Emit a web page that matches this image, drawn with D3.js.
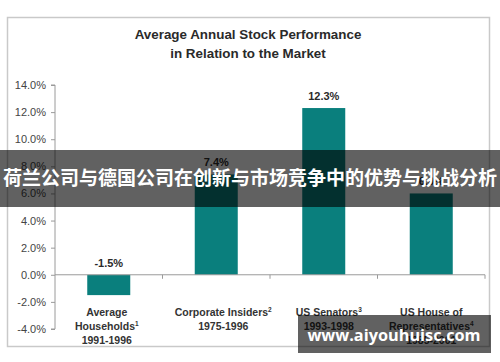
<!DOCTYPE html>
<html>
<head>
<meta charset="utf-8">
<script src="https://cdn.jsdelivr.net/npm/d3@7"></script>
<style>
  body { margin: 0; background: #fff; }
  svg { display: block; font-family: "Liberation Sans", Arial, sans-serif; }
</style>
</head>
<body>
<script>
// Data
const categories = ["Average Households", "Corporate Insiders", "US Senators", "US House of Representatives"];
const values = [-1.5, 7.4, 12.3, 6.0];
const valueLabels = ["-1.5%", "7.4%", "12.3%", "6.0%"];
const catLines = [
  [["Average", ""], ["Households", "1"], ["1991-1996", ""]],
  [["Corporate Insiders", "2"], ["1975-1996", ""]],
  [["US Senators", "3"], ["1993-1998", ""]],
  [["US House of", ""], ["Representatives", "4"], ["1985-2001", ""]]
];
const yTicks = [-4, -2, 0, 2, 4, 6, 8, 10, 12, 14];
const titleLines = ["Average Annual Stock Performance", "in Relation to the Market"];
const bannerText = "荷兰公司与德国公司在创新与市场竞争中的优势与挑战分析";
const siteText = "www.aiyouhuisc.com";

const W = 500, H = 362;
// small horizontal nudges of the category labels, as in the original layout
const labelNudge = [-2, 7, 5, 0];

const svg = d3.select("body").append("svg").attr("width", W).attr("height", H);

// Frame
svg.append("rect")
  .attr("x", 7.5).attr("y", 17.5).attr("width", 482).attr("height", 329)
  .attr("fill", "#fff").attr("stroke", "#c9c9c9").attr("stroke-width", 1.5);

// Title
svg.append("g").selectAll("text")
  .data(titleLines)
  .join("text")
  .attr("x", 248).attr("y", (d, i) => 39 + i * 18.5)
  .attr("text-anchor", "middle")
  .attr("font-size", 13.4).attr("font-weight", "bold").attr("fill", "#2a2a2a")
  .text(d => d);

// Scales
const y = d3.scaleLinear().domain([-4, 14]).range([329, 85]);
const x = d3.scaleBand().domain(categories).range([55, 485]).paddingInner(0.6).paddingOuter(0.3);

// Y axis
const yAxis = svg.append("g")
  .attr("transform", "translate(55,0)")
  .call(d3.axisLeft(y).tickValues(yTicks).tickSize(4).tickPadding(5).tickFormat(d => d.toFixed(1) + "%"));
yAxis.select(".domain").attr("stroke", "#9a9a9a").attr("d", "M-4," + y(14) + "H0V" + y(-4) + "H-4");
yAxis.selectAll(".tick line").attr("stroke", "#9a9a9a");
yAxis.selectAll(".tick text").attr("font-size", 11).attr("fill", "#444").attr("font-family", "Liberation Sans, Arial, sans-serif");

// Bars
svg.append("g").selectAll("rect")
  .data(values)
  .join("rect")
  .attr("x", (d, i) => x(categories[i]))
  .attr("width", x.bandwidth())
  .attr("y", d => y(Math.max(0, d)))
  .attr("height", d => Math.abs(y(d) - y(0)))
  .attr("fill", "#0a7f7d");

// Zero axis with boundary ticks
const step = 430 / categories.length;
svg.append("line")
  .attr("x1", 55).attr("x2", 485).attr("y1", y(0)).attr("y2", y(0))
  .attr("stroke", "#9a9a9a");
svg.append("g").selectAll("line")
  .data(categories)
  .join("line")
  .attr("x1", (d, i) => 55 + (i + 1) * step)
  .attr("x2", (d, i) => 55 + (i + 1) * step)
  .attr("y1", y(0)).attr("y2", y(0) + 4)
  .attr("stroke", "#9a9a9a");

// Value labels
svg.append("g").selectAll("text")
  .data(values)
  .join("text")
  .attr("x", (d, i) => x(categories[i]) + x.bandwidth() / 2)
  .attr("y", d => y(Math.max(0, d)) - 8)
  .attr("text-anchor", "middle")
  .attr("font-size", 11).attr("font-weight", "bold").attr("fill", "#2a2a2a")
  .text((d, i) => valueLabels[i]);

// Category labels
const catG = svg.append("g").selectAll("g")
  .data(catLines)
  .join("g")
  .attr("transform", (d, i) => "translate(" + (x(categories[i]) + x.bandwidth() / 2 + labelNudge[i]) + ",0)");
catG.each(function(lines) {
  const g = d3.select(this);
  lines.forEach((ln, j) => {
    const t = g.append("text")
      .attr("x", 0).attr("y", 316 + j * 14)
      .attr("text-anchor", "middle")
      .attr("font-size", 10.5).attr("font-weight", "bold").attr("fill", "#333");
    t.append("tspan").text(ln[0]);
    if (ln[1]) t.append("tspan").attr("dy", -4).attr("font-size", 6.5).text(ln[1]);
  });
});

// Overlay banner
svg.append("rect")
  .attr("x", 0).attr("y", 150).attr("width", W).attr("height", 57)
  .attr("fill", "#000").attr("fill-opacity", 0.62);
svg.append("text")
  .attr("x", W / 2).attr("y", 185)
  .attr("text-anchor", "middle")
  .attr("font-family", "Noto Sans CJK SC, sans-serif")
  .attr("font-size", 19).attr("font-weight", "bold").attr("fill", "#fff")
  .text(bannerText);

// Site watermark box
svg.append("rect")
  .attr("x", 298).attr("y", 315).attr("width", 193).attr("height", 38)
  .attr("fill", "#000").attr("fill-opacity", 0.62);
svg.append("text")
  .attr("x", 394).attr("y", 341)
  .attr("text-anchor", "middle")
  .attr("font-family", "Open Sans, Noto Sans, sans-serif")
  .attr("font-size", 16.3).attr("font-weight", "bold").attr("fill", "#fff")
  .text(siteText);
</script>
</body>
</html>
